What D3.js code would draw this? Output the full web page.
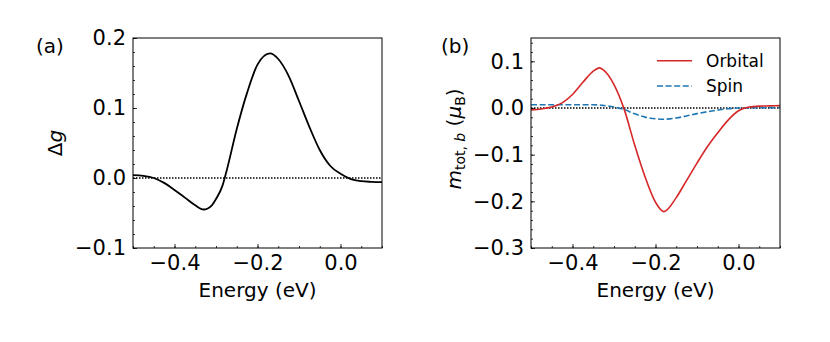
<!DOCTYPE html>
<html>
<head>
<meta charset="utf-8">
<script src="https://cdn.jsdelivr.net/npm/d3@7"></script>
<style>
  body { margin: 0; background: #fff; }
  svg text { font-family: "DejaVu Sans", sans-serif; fill: #000; }
</style>
</head>
<body>
<div id="chart"></div>
<script>
// panel (a): energy (eV) and delta g
const energyA = [-0.5, -0.475, -0.45, -0.425, -0.4, -0.375, -0.35, -0.33, -0.31, -0.3, -0.285, -0.275, -0.25, -0.225, -0.2, -0.17, -0.15, -0.125, -0.1, -0.075, -0.05, -0.025, 0.0, 0.025, 0.05, 0.075, 0.1]
const deltaG = [0.004, 0.003, 0.0, -0.007, -0.017, -0.028, -0.039, -0.045, -0.039, -0.030, -0.012, 0.009, 0.070, 0.122, 0.162, 0.178, 0.170, 0.146, 0.110, 0.073, 0.040, 0.0175, 0.006, -0.0015, -0.0045, -0.0055, -0.006]

// panel (b): energy (eV), orbital and spin moments
const energyB = [-0.5, -0.475, -0.45, -0.425, -0.4, -0.375, -0.35, -0.335, -0.325, -0.3, -0.275, -0.25, -0.225, -0.2, -0.18, -0.15, -0.125, -0.1, -0.075, -0.05, -0.025, 0.0, 0.025, 0.05, 0.075, 0.1]
const orbital = [-0.004, -0.002, 0.002, 0.011, 0.029, 0.055, 0.079, 0.086, 0.081, 0.050, -0.004, -0.080, -0.148, -0.202, -0.222, -0.192, -0.155, -0.118, -0.083, -0.053, -0.026, -0.006, 0.002, 0.004, 0.0045, 0.005]
const spin = [0.007, 0.007, 0.007, 0.007, 0.007, 0.007, 0.007, 0.0065, 0.0055, 0.002, -0.0035, -0.0125, -0.0195, -0.023, -0.024, -0.0214, -0.017, -0.012, -0.008, -0.0045, -0.0015, 0.0, 0.0003, 0.0005, 0.0008, 0.001]

const xTicks = [-0.4, -0.2, 0.0]
const yTicksA = [-0.1, 0.0, 0.1, 0.2]
const yTicksB = [-0.3, -0.2, -0.1, 0.0, 0.1]
const seriesNames = ["Orbital", "Spin"]

const svg = d3.select("#chart").append("svg")
    .attr("width", 830)
    .attr("height", 342)

const fmt = d => d3.format(".1f")(d).replace("-", "\u2212")

function panel(left, yDomain, yTicks) {
    const margin = {top: 38, left: left}
    const width = 249, height = 210
    const g = svg.append("g").attr("transform", "translate(" + margin.left + "," + margin.top + ")")
    const x = d3.scaleLinear().domain([-0.5, 0.1]).range([0, width])
    const y = d3.scaleLinear().domain(yDomain).range([height, 0])

    // minor ticks, every 0.05 on x and 0.02 on y
    const xMinor = d3.range(-10, 3).map(v => v * 0.05)
    g.append("g")
        .attr("transform", "translate(0," + height + ")")
        .call(d3.axisBottom(x).tickValues(xMinor).tickSize(-2).tickFormat(""))
        .call(a => a.select(".domain").remove())
    const yMinor = d3.range(Math.ceil(yDomain[0] * 50 - 1e-6), Math.floor(yDomain[1] * 50 + 1e-6) + 1).map(v => v / 50)
    g.append("g")
        .call(d3.axisLeft(y).tickValues(yMinor).tickSize(-2).tickFormat(""))
        .call(a => a.select(".domain").remove())

    // major ticks
    g.append("g")
        .attr("transform", "translate(0," + height + ")")
        .call(d3.axisBottom(x).tickValues(xTicks).tickSize(-4).tickPadding(7).tickFormat(fmt))
        .call(a => a.select(".domain").remove())
        .selectAll("text").attr("font-size", 21)
    g.append("g")
        .call(d3.axisLeft(y).tickValues(yTicks).tickSize(-4).tickPadding(7).tickFormat(fmt))
        .call(a => a.select(".domain").remove())
        .selectAll("text").attr("font-size", 21)
    g.selectAll(".tick line").attr("stroke", "#000").attr("stroke-width", 0.8)

    g.append("line")
        .attr("x1", 0).attr("x2", width)
        .attr("y1", y(0)).attr("y2", y(0))
        .attr("stroke", "#000").attr("stroke-width", 1.5)
        .attr("stroke-dasharray", "1.5,1.5")

    g.append("text")
        .attr("x", width / 2).attr("y", height + 49)
        .attr("text-anchor", "middle").attr("font-size", 20)
        .text("Energy (eV)")

    return {g, x, y, width, height}
}

const pa = panel(133, [-0.1, 0.2], yTicksA)
const pb = panel(531, [-0.3, 0.15], yTicksB)

const lineA = d3.line().x(d => pa.x(d[0])).y(d => pa.y(d[1])).curve(d3.curveMonotoneX)
pa.g.append("path")
    .datum(d3.zip(energyA, deltaG))
    .attr("fill", "none").attr("stroke", "#000").attr("stroke-width", 1.8)
    .attr("d", lineA)

const lineB = d3.line().x(d => pb.x(d[0])).y(d => pb.y(d[1])).curve(d3.curveMonotoneX)
const colors = ["#d62728", "#1f77b4"]
const dashes = [null, "6,2.6"]
pb.g.append("path")
    .datum(d3.zip(energyB, spin))
    .attr("fill", "none").attr("stroke", colors[1]).attr("stroke-width", 1.6)
    .attr("stroke-dasharray", dashes[1])
    .attr("d", lineB)
pb.g.append("path")
    .datum(d3.zip(energyB, orbital))
    .attr("fill", "none").attr("stroke", colors[0]).attr("stroke-width", 1.6)
    .attr("d", lineB)

// frames on top
;[pa, pb].forEach(p => {
    p.g.append("rect")
        .attr("width", p.width).attr("height", p.height)
        .attr("fill", "none").attr("stroke", "#000").attr("stroke-width", 1)
})

// legend
seriesNames.forEach((name, i) => {
    const ly = 22.7 + i * 25.3
    pb.g.append("line")
        .attr("x1", 126).attr("x2", 161).attr("y1", ly).attr("y2", ly)
        .attr("stroke", colors[i]).attr("stroke-width", 1.6)
        .attr("stroke-dasharray", dashes[i])
    pb.g.append("text")
        .attr("x", 175).attr("y", ly).attr("dy", "0.36em")
        .attr("font-size", 17).text(name)
})

// panel labels
svg.append("text").attr("x", 36).attr("y", 53).attr("font-size", 20).text("(a)")
svg.append("text").attr("x", 441).attr("y", 53).attr("font-size", 20).text("(b)")

// y labels
const ya = svg.append("text")
    .attr("transform", "translate(62,143) rotate(-90)")
    .attr("text-anchor", "middle").attr("font-size", 20)
ya.append("tspan").text("\u0394")
ya.append("tspan").attr("font-style", "italic").text("g")

const yb = svg.append("text")
    .attr("transform", "translate(461,139) rotate(-90)")
    .attr("text-anchor", "middle").attr("font-size", 20)
yb.append("tspan").attr("font-style", "italic").text("m")
yb.append("tspan").attr("font-size", 14).attr("dy", 4).text("tot, ")
yb.append("tspan").attr("font-size", 14).attr("font-style", "italic").text("b")
yb.append("tspan").attr("dy", -4).text(" (")
yb.append("tspan").attr("font-style", "italic").text("\u03bc")
yb.append("tspan").attr("font-size", 14).attr("dy", 4).text("B")
yb.append("tspan").attr("dy", -4).text(")")
</script>
</body>
</html>
